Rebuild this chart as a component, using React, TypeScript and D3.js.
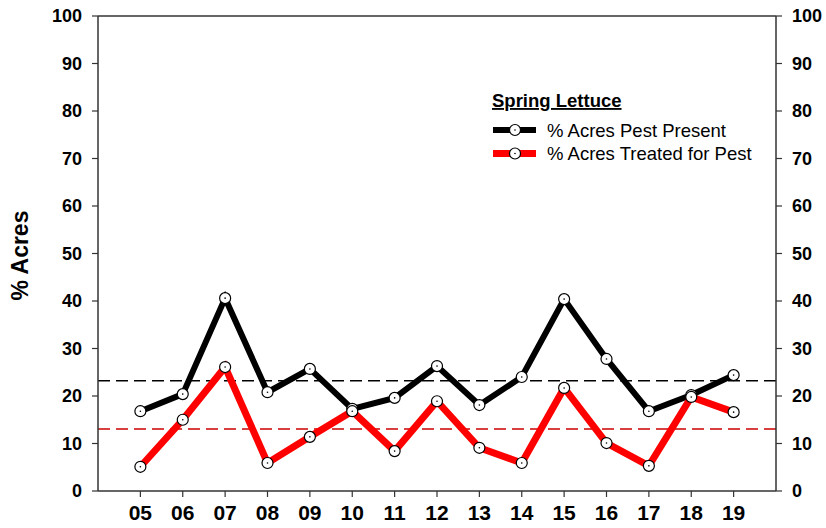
import React from "react";
import * as d3 from "d3";

const years = ["05", "06", "07", "08", "09", "10", "11", "12", "13", "14", "15", "16", "17", "18", "19"];
const pestPresent = [16.8, 20.4, 40.6, 20.8, 25.7, 17.3, 19.6, 26.3, 18.1, 24.0, 40.4, 27.8, 16.8, 20.2, 24.4];
const treated = [5.1, 15.0, 26.1, 5.9, 11.4, 16.8, 8.4, 18.9, 9.1, 5.9, 21.7, 10.1, 5.3, 19.8, 16.6];
const meanPresent = 23.2;
const meanTreated = 13.05;
const yTicks = [0, 10, 20, 30, 40, 50, 60, 70, 80, 90, 100];
const legendTitle = "Spring Lettuce";
const seriesNames = ["% Acres Pest Present", "% Acres Treated for Pest"];

const W = 826, H = 528;
const left = 98, right = 776, top = 16, bottom = 491;
const font = "Liberation Sans, Arial, sans-serif";

export default function App() {
  const x = d3.scaleLinear().domain([-1, 15]).range([left, right]);
  const y = d3.scaleLinear().domain([0, 100]).range([bottom, top]);
  const line = d3.line<number>().x((_, i) => x(i)).y((d) => y(d));

  const series = [
    { data: pestPresent, color: "#000000", width: 6 },
    { data: treated, color: "#ff0000", width: 7 },
  ];

  const marker = (cx: number, cy: number, key: string) => (
    <g key={key}>
      <circle cx={cx} cy={cy} r={5.5} fill="#fff" stroke="#000" strokeWidth={1.2} />
      <circle cx={cx} cy={cy} r={0.8} fill="#000" />
    </g>
  );

  return (
    <svg width={W} height={H} style={{ position: "absolute", left: 0, top: 0 }} fontFamily={font}>
      <rect width={W} height={H} fill="#fff" />
      {/* dashed means */}
      <line x1={left} x2={right} y1={y(meanPresent)} y2={y(meanPresent)} stroke="#000" strokeWidth={1.5} strokeDasharray="12,6" />
      <line x1={left} x2={right} y1={y(meanTreated)} y2={y(meanTreated)} stroke="#cc0000" strokeWidth={1.5} strokeDasharray="12,6" />
      {/* frame */}
      <line x1={left} x2={right} y1={top} y2={top} stroke="#333" strokeWidth={1.5} />
      <line x1={left} x2={right} y1={bottom} y2={bottom} stroke="#333" strokeWidth={1.5} />
      <line x1={left} x2={left} y1={top} y2={bottom} stroke="#333" strokeWidth={1.5} />
      <line x1={right} x2={right} y1={top} y2={bottom} stroke="#333" strokeWidth={1.5} />
      {yTicks.map((t) => (
        <g key={"yt" + t}>
          <line x1={left - 6} x2={left} y1={y(t)} y2={y(t)} stroke="#333" strokeWidth={1.2} />
          <text x={left - 16} y={y(t)} dy="0.36em" textAnchor="end" fontSize={18} fontWeight="bold">{t}</text>
          <line x1={right} x2={right + 6} y1={y(t)} y2={y(t)} stroke="#333" strokeWidth={1.2} />
          <text x={right + 16} y={y(t)} dy="0.36em" textAnchor="start" fontSize={18} fontWeight="bold">{t}</text>
        </g>
      ))}
      {years.map((yr, i) => (
        <g key={"xt" + yr}>
          <line x1={x(i)} x2={x(i)} y1={bottom} y2={bottom + 6} stroke="#333" strokeWidth={1.2} />
          <text x={x(i)} y={bottom + 29} textAnchor="middle" fontSize={21} fontWeight="bold">{yr}</text>
        </g>
      ))}
      <text transform={`translate(28,${(top + bottom) / 2 + 2}) rotate(-90)`} textAnchor="middle" fontSize={23} fontWeight="bold">% Acres</text>
      {series.map((s, si) => (
        <path key={"l" + si} d={line(s.data) || ""} fill="none" stroke={s.color} strokeWidth={s.width} strokeLinejoin="miter" />
      ))}
      {series.map((s, si) => s.data.map((d, i) => marker(x(i), y(d), `m${si}-${i}`)))}
      {/* legend */}
      <text x={492} y={107} fontSize={18.5} fontWeight="bold" textDecoration="underline">{legendTitle}</text>
      {series.map((s, si) => {
        const ly = 130 + si * 23.5;
        return (
          <g key={"lg" + si}>
            <line x1={493} x2={536} y1={ly} y2={ly} stroke={s.color} strokeWidth={s.width} />
            {marker(515, ly, "lm" + si)}
            <text x={547} y={ly} dy="0.36em" fontSize={18.5}>{seriesNames[si]}</text>
          </g>
        );
      })}
    </svg>
  );
}
